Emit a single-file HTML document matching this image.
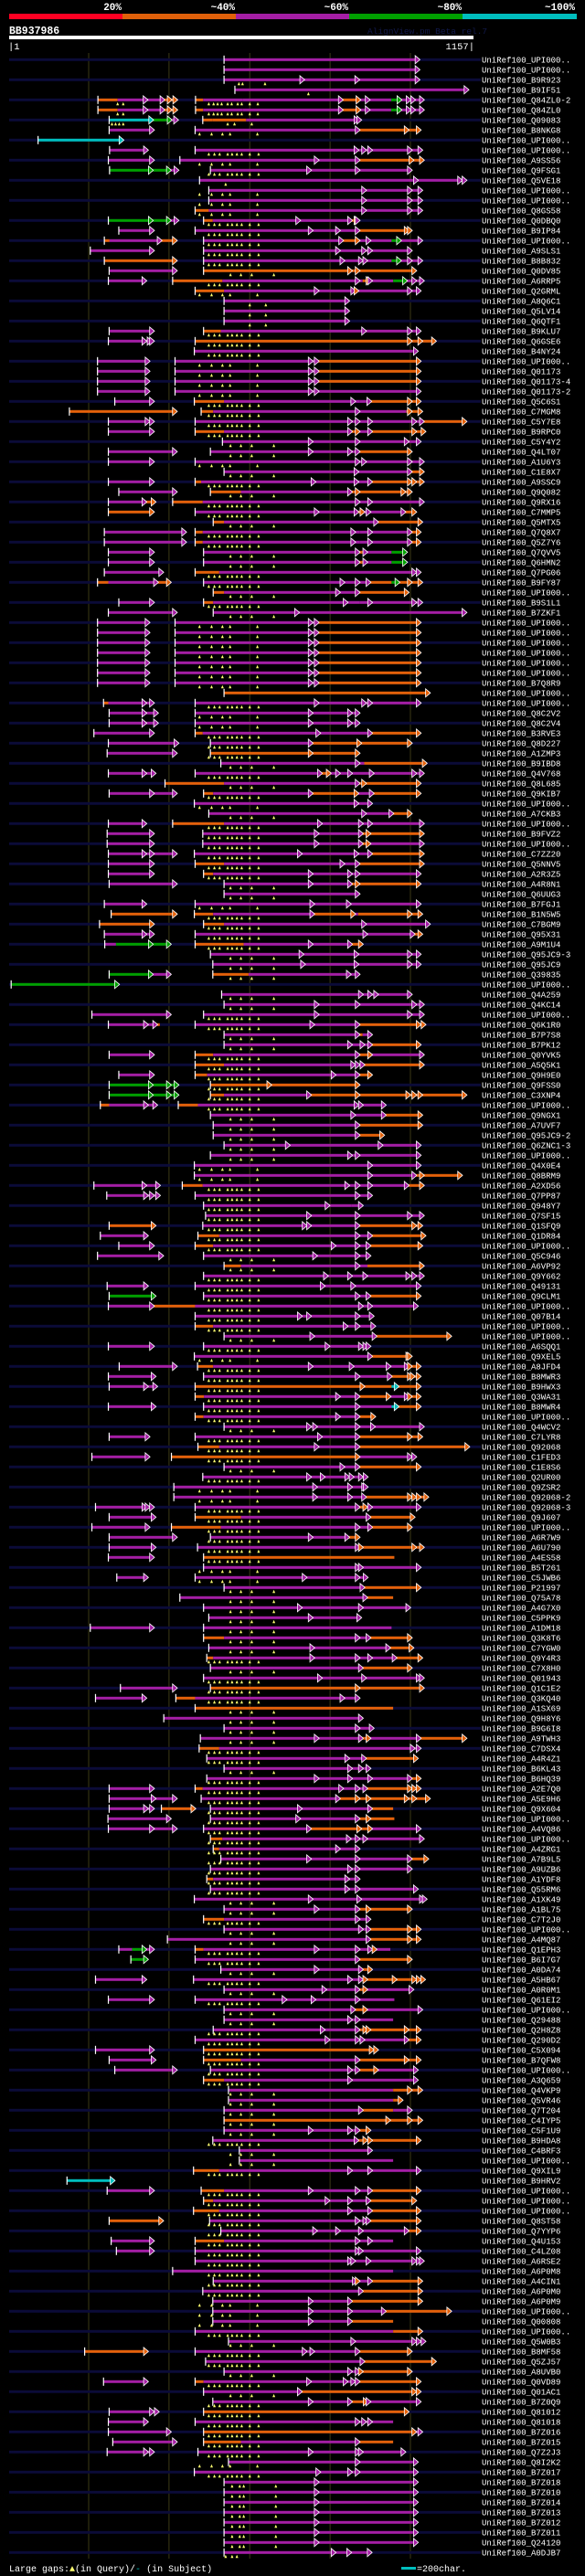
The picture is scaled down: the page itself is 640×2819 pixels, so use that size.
<!DOCTYPE html>
<html><head><meta charset="utf-8"><title>BB937986 AlignView</title>
<style>
html,body{margin:0;padding:0;background:#000;}
#wrap{width:640px;height:2819px;overflow:hidden;background:#000;}
svg text{font-family:"Liberation Mono","DejaVu Sans Mono",monospace;}
</style></head>
<body>
<div id="wrap">
<svg id="chart" width="640" height="2819" viewBox="0 0 640 2819" xmlns="http://www.w3.org/2000/svg">
  <rect x="0" y="0" width="640" height="2819" fill="#000"/>
  <g>
    <rect x="10" y="15" width="124" height="6" fill="#ff0022"/>
    <rect x="134" y="15" width="124" height="6" fill="#e0600a"/>
    <rect x="258" y="15" width="124" height="6" fill="#a41ea4"/>
    <rect x="382" y="15" width="124" height="6" fill="#00a000"/>
    <rect x="506" y="15" width="125" height="6" fill="#00bebe"/>
    <g fill="#fff" font-size="11" font-weight="bold" text-anchor="end">
      <text x="133" y="11">20%</text>
      <text x="257" y="11">~40%</text>
      <text x="381" y="11">~60%</text>
      <text x="505" y="11">~80%</text>
      <text x="629" y="11">~100%</text>
    </g>
  </g>
  <text x="10" y="37" fill="#fff" font-size="11.5" font-weight="bold">BB937986</text>
  <text x="402" y="37" fill="#121a4c" font-size="9.5">AlignView.pm Beta rel.7</text>
  <rect x="10" y="39" width="508" height="4" fill="#fff"/>
  <text x="9" y="54" fill="#fff" font-size="10.5">|1</text>
  <text x="519" y="54" fill="#fff" font-size="10.5" text-anchor="end">1157|</text>
  <g id="grid"></g>
  <g id="rows"></g>
  <g>
    <text x="10" y="2814" fill="#fff" font-size="10">Large gaps:<tspan fill="#ffff70">▲</tspan>(in Query)/<tspan fill="#00bebe">-</tspan> (in Subject)</text>
    <rect x="439" y="2809" width="16" height="3" fill="#00bebe"/>
    <text x="456" y="2814" fill="#fff" font-size="10">=200char.</text>
  </g>
</svg>
</div>
<script>
// ---- data ----
const queryLength = [1, 1157];
const gridPositions = [199, 399, 600, 800, 1000];
const ticksA = [498, 512, 525, 545, 556, 568, 580, 600, 622];
const ticksB = [475, 505, 532, 551, 619];
const ticksC = [552, 578, 605, 660];
const ticksD = [556, 575, 585, 665];
const hitNames = ["UPI000..","UPI000..","B9R923","B9IF51","Q84ZL0-2","Q84ZL0","Q09083","B8NKG8","UPI000..","UPI000..",
"A9SS56","Q9FSG1","Q5VE18","UPI000..","UPI000..","Q8GS58","Q0DBQ0","B9IP84","UPI000..","A9SLS1",
"B8B832","Q0DV85","A6RRP5","Q2GRML","A8Q6C1","Q5LV14","Q6QTF1","B9KLU7","Q6GSE6","B4NY24",
"UPI000..","Q01173","Q01173-4","Q01173-2","Q5C6S1","C7MGM8","C5Y7E8","B9RPC0","C5Y4Y2","Q4LT07",
"A1U6Y3","C1E8X7","A9SSC9","Q9Q082","Q9RX16","C7MMP5","Q5MTX5","Q7Q8X7","Q5Z7Y6","Q7QVV5",
"Q6HMN2","Q7PG06","B9FY87","UPI000..","B9S1L1","B7ZKF1","UPI000..","UPI000..","UPI000..","UPI000..",
"UPI000..","UPI000..","B7Q8R9","UPI000..","UPI000..","Q8C2V2","Q8C2V4","B3RVE3","Q8D227","A1ZMP3",
"B9IBD8","Q4V768","Q8L685","Q9KIB7","UPI000..","A7CKB3","UPI000..","B9FVZ2","UPI000..","C7ZZ20",
"Q5NNV5","A2R3Z5","A4R8N1","Q6UUG3","B7FGJ1","B1N5W5","C7BGM9","Q95X31","A9M1U4","Q95JC9-3",
"Q95JC9","Q39835","UPI000..","Q4A259","Q4KC14","UPI000..","Q6K1R0","B7P7S8","B7PK12","Q0YVK5",
"A5Q5K1","Q9H9E0","Q9FSS0","C3XNP4","UPI000..","Q9NGX1","A7UVF7","Q95JC9-2","Q6ZNC1-3","UPI000..",
"Q4X0E4","Q8BRM9","A2XD56","Q7PP87","Q948Y7","Q7SF15","Q1SFQ9","Q1DR84","UPI000..","Q5C946",
"A6VP92","Q9Y662","Q49131","Q9CLM1","UPI000..","Q07B14","UPI000..","UPI000..","A6SQQ1","Q9XEL5",
"A8JFD4","B8MWR3","B9HWX3","Q3WA31","B8MWR4","UPI000..","Q4WCV2","C7LYR8","Q92068","C1FED3",
"C1E8S6","Q2UR00","Q9ZSR2","Q92068-2","Q92068-3","Q9J607","UPI000..","A6R7W9","A6U790","A4ES58",
"B5T261","C5JWB6","P21997","Q75A78","A4G7X0","C5PPK9","A1DM18","Q3K8T6","C7YGW0","Q9Y4R3",
"C7X8H0","Q01943","Q1C1E2","Q3KQ40","A1SX69","Q9H8Y6","B9G6I8","A9TWH3","C7DSX4","A4R4Z1",
"B6KL43","B6HQ39","A2E7Q0","A5E9H6","Q9X604","UPI000..","A4VQ86","UPI000..","A4ZRG1","A7B9L5",
"A9UZB6","A1YDF8","Q55RM6","A1XK49","A1BL75","C7T2J0","UPI000..","A4MQ87","Q1EPH3","B6I7G7",
"A0DA74","A5HB67","A0R0M1","Q61EI2","UPI000..","Q29488","Q2H8Z8","Q290D2","C5X094","B7QFW8",
"UPI000..","A3Q659","Q4VKP9","Q5VR46","Q7T204","C4IYP5","C5F1U9","B9HDA8","C4BRF3","UPI000..",
"Q9XIL9","B9HRV2","UPI000..","UPI000..","UPI000..","Q8ST58","Q7YYP6","Q4U153","C4LZ08","A6RSE2",
"A6P0M8","A4CIN1","A6P0M0","A6P0M9","UPI000..","Q00808","UPI000..","Q5W0B3","B8MF58","Q5ZJ57",
"A8UVB0","Q0VD89","Q01AC1","B7Z0Q9","Q81012","Q81018","B7Z016","B7Z015","Q7Z2J3","Q8I2K2",
"B7Z017","B7Z018","B7Z010","B7Z014","B7Z013","B7Z012","B7Z011","Q24120","A0DJB7"];
const hitSegments = [
"|m536-1022>","|m536-1022>","|m536-735> m-872> m-1022> ^573,582,638","|m563-1144> ^746",
"|o222-271 m-345> m-387> o-405> o-419> |o465-484 m-582 m-831> o-875> m-898> m-952 g-977> m-1000> m-1011> m-1033> ^271,285,498,510,520,530,545,555,570,580,600,620",
"|o222-271 m-345> m-387> o-405> o-419> |o465-484 m-582 m-831> o-875> m-898> m-952 g-977> m-1000> m-1011> m-1033> ^271,285,498,510,520,530,545,555,570,580,600,620",
"|c250-359> g-405> m-421> |o483-508 o-591 m-870> m-877> ^257,266,275,285,545,562,605",
"|m250-361> |m464-873> o-995> o-1025> ^B","|c73-285>",
"|m251-346> |m464-870> m-889> m-904> m-1003> m-1029> ^A",
"|m248-361> |m426-771> m-873> o-1007> o-1033> ^B",
"|g251-358> g-403> m-422> |m502-752> m-873> m-1003> ^A",
"|m475-1018> m-1128> m-1139> ^540",
"|m498-889> m-1003> m-1029> ^B","|m498-889> m-1003> m-1029> ^B","|o464-498 m-889> m-1003> m-1029> ^B",
"|g248-358> g-403> m-422> |o485-508 m-725> m-854> o-870> m-873> ^A",
"|m274-361> |m464-756> m-824> m-873> o-995> o-1003> ^A",
"|o238-251 m-380> o-418> |m485-832> o-873> m-900> m-953 g-976> m-1029> ^A",
"|m203-361> |m485-824> m-889> m-904> m-1003> ^A",
"|o238-418> |m485-835> m-881> m-892> m-953 g-976> m-1003> m-1029> ^A",
"|m250-418> |o485-854> o-873> o-1014> ^C",
"|m248-342> |o408-532 m-873> m-881 o-900> m-904> m-957 g-991> m-1014> m-1033> ^A",
"|o464-536 m-771> m-862> o-870> m-1003> m-1025> ^B",
"|m536-847> ^600,640","|m536-847> ^600,640","|m536-847> ^600,640",
"|m250-361> |o485-528 m-889> m-1003> m-1025> ^A",
"|m248-342> m-355> m-361> |o464-1003> o-1029> o-1063> ^A",
"|m462-1018> ^A",
"|m221-350> |m414-756> m-771> o-1025> ^B","|m221-350> |m414-756> m-771> o-1025> ^B","|m221-350> |m414-756> m-771> o-1025> ^B","|m221-350> |m414-756> m-771> m-1025> ^B",
"|m264-361> |o462-536 m-862> m-873 m-902> o-1003> o-1025> ^A",
"|o151-418> |o479-509 m-873> m-990 o-1003> o-1029> ^A",
"|m248-350> m-361> |m464-854> m-873> m-904> m-1014> m-1033> o-1139> ^A",
"|m248-361> |o464-536 m-854> o-873> m-904> o-1014> o-1037> ^A",
"|m532-756> m-873> m-995> m-1025> ^C",
"|m248-418> |m502-756> m-854> m-873> o-1003> ^C",
"|m248-361> |m464-873> m-889> m-1003> m-1033> ^B",
"|m536-870> m-1003> o-1033> ^C",
"|m248-361> |o464-479 m-763> m-870> m-904> o-1003> o-1014> o-1033> ^A",
"|m274-418> |o502-578 m-854> o-873> o-987> o-1003> ^C",
"|m248-342> o-365> |o408-483 m-873> m-904> m-1033> ^A",
"|o248-361> |m464-771> m-870> o-885> m-900> m-987> o-1014> ^A",
"|o509-536 m-919> o-1029> ^C",
"|m238-441> |o464-483 m-862> m-873 m-904> m-1003> o-1025> ^A",
"|m238-441> |o464-483 m-862> m-873 m-904> m-1003> o-1025> ^A",
"|m248-361> |m485-873> o-881 m-892> m-953 g-991> ^C",
"|m248-361> |m485-873> o-881 m-892> m-953 g-991> ^C",
"|m238-384> |o464-524 m-1014> m-1025> ^A",
"|o221-248 m-371> o-403> |m485-835> m-873> m-900> o-953 g-972> o-1003> o-1029> ^A",
"|o509-536 m-824> m-873> o-995> ^C",
"|m274-361> |o485-509 m-843> m-873 m-904> m-1014> m-1029> ^A",
"|m248-418> |m509-722> m-1139> ^C",
"|m221-350> |m414-756> m-771> o-1025> ^B","|m221-350> |m414-756> m-771> o-1025> ^B","|m221-350> |m414-756> m-771> o-1025> ^B",
"|m221-350> |m414-756> m-771> o-1025> ^B","|m221-350> |m414-756> m-771> o-1025> ^B","|m221-350> |m414-756> m-771> o-1025> ^B",
"|m221-350> |m414-756> m-771> o-1025> ^B",
"|o536-1048>",
"|o236-248 m-342> m-361> |m464-771> m-889> m-904> m-1025> ^A",
"|m250-342> m-371> |m464-756> m-854> m-873> ^B","|m250-342> m-371> |m464-756> m-854> m-873> ^B",
"|m212-361> |o464-483 m-775> m-904> o-1025> ^A",
"|m248-422> |m502-756> o-877> o-1003> ^A",
"|m245-418> |o502-756> o-873> ^A",
"|m528-873> m-885 o-1040> ^C",
"|m248-342> m-365> |m464-779> o-801> m-824> m-854> m-908> m-1014> m-1033> ^A",
"|o389-536 m-873> o-889> o-1025> ^C",
"|m250-361> m-418> |o485-509 m-756> o-870> m-908> o-1025> ^A",
"|m462-870> m-904> ^B",
"|m498-889> m-957> o-1003> ^C",
"|m248-342> |o408-536 m-779> m-881> m-904> m-1033> ^A",
"|m245-361> |m483-771> m-881> o-900> o-1033> ^A",
"|m245-361> |m483-771> m-881> o-900> m-1033> ^A",
"|m248-342> m-361> m-418> |m462-729> m-870> m-904> o-1033> ^A",
"|m248-361> |o464-536 m-835> m-873> o-1033> ^A",
"|m248-361> |o485-509 m-756> m-854> m-873> m-1025> ^A",
"|m250-418> |m536-756> m-854> o-873> o-1025> ^C",
"|m536-873> ^C",
"|m238-342> |m464-760> m-851> m-1025> ^B",
"|o255-418> |o462-509 m-760> o-862> m-870 o-1003> o-1029> ^A",
"|o226-361> |o485-536 m-889> m-1048> ^A",
"|m238-342> m-361> |m464-892> m-1010> o-1029> ^A",
"|m239-267 g-358> g-403> |o464-585 m-756> m-854> o-881> ^A",
"|m502-733> m-870> m-1003> m-1025> ^C",
"|m508-737> m-870> m-1003> m-1025> ^C",
"|g250-358> m-403> |o508-597 m-851> m-873> ^C",
"|g6-274>",
"|m530-881> m-904> m-919> m-1003> ^C",
"|m536-771> m-873> m-1014> m-1033> ^C",
"|m207-403> |m485-771> m-1003> m-1033> ^A",
"|m248-346> m-369> o-376 |m464-760> m-873> o-1025> o-1037> ^A",
"|m536-873> o-881 m-904> ^C",
"|m536-854> m-885> m-904> o-1025> ^C",
"|m250-361> |o464-509 m-873> o-904> m-1033> ^A",
"|o464-536 m-862> m-873> m-885> o-1033> ^A",
"|m274-361> |o464-494 m-813> m-873> o-904> ^A",
"|g250-358> g-403> g-422> |o502-653> o-873> ^A",
"|g250-358> g-403> g-422> |o502-536 m-752> o-873> o-999> o-1014> o-1029> o-1139> ^A",
"|o228-250 m-346> m-369> |o422-471 m-870> m-881> m-938> ^A",
"|m502-862> m-938> o-1029> ^C",
"|m509-873> o-1029> ^C",
"|m509-873> o-934> ^C",
"|m536-699> m-930> m-1025> ^C",
"|m502-854> m-873> m-1025> ^C",
"|m462-904> m-1025> ^B",
"|m462-904> m-1014> o-1033> o-1128> ^B",
"|m212-342> m-360 m-376> |o432-483 m-847> m-873> m-904> m-995> o-1033> ^A",
"|m244-346> m-361> m-376> |m464-873> m-904> ^A",
"|m485-798> m-854 m-881> ^A",
"|m490-752> m-873> m-1003> m-1033> ^A",
"|o250-365> |m483-741> m-752> m-873> o-1014> o-1029> ^A",
"|m228-346> |o471-524 m-873> m-904> o-1037> ^A",
"|m274-361> |o464-509 m-813> m-873> m-900> o-1029> ^A",
"|m221-384> |m485-767> m-873> m-900> ^C",
"|o536-578 m-873> m-893 o-1033> ^C",
"|m485-794> m-854> m-892> m-999> m-1014> m-1033> ^A",
"|m245-346> |m464-786> m-862> m-1025> ^A",
"|g250-365> |m485-873> m-900> o-1025> ^A",
"|m248-361> o-464 m-881> m-904> m-1018> ^A",
"|m464-729> m-752> m-873> m-908> ^A",
"|o464-509 m-843> m-873> m-912> ^A",
"|m536-760> m-915> o-1101> ^C",
"|m248-361> |m485-798> m-881> m-892> m-900> ^A",
"|m462-904> o-999> o-1003> ^B",
"|m275-418> |o470-509 m-756> m-858> m-950> m-995> o-1003> o-1025> ^A",
"|m248-365> |m485-873> m-953> o-1003> o-1010> o-1025> ^A",
"|m250-346> m-369> |o464-885> o-953 c-970> o-1025> ^A",
"|o464-486 m-824> m-873> o-950> m-995> o-1003> o-1025> ^A",
"|m248-365> |m485-873> m-953 c-970> o-1025> ^A",
"|o464-485 m-824> m-873> o-912> ^A",
"|m536-752> m-767> m-873> m-911> m-1033> ^C",
"|m250-350> |m464-779> m-873> o-1003> o-1029> ^A",
"|o471-524 m-771> m-873> o-1146> ^A",
"|m207-350> |o405-873> m-1003> m-1014> ^A",
"|m536-835> m-873> o-1025> ^C",
"|m483-752> m-786> m-847> m-858> m-881> m-893> ^A",
"|m411-767> m-854> m-889> m-893> ^B",
"|m411-767> m-854> m-889> o-1003> o-1014> o-1025> o-1044> ^B",
"|m216-342> m-350> m-361> |m464-873> o-892> m-904> m-1025> ^A",
"|m250-365> |o464-578 m-900> o-1010> ^A",
"|m207-350> |o405-528 m-873> m-904> o-1003> ^A",
"|m250-418> |m502-756> m-847> o-873> ^A",
"|m250-365> |m470-873> o-881> o-1014> o-1033> ^A",
"|m248-361> |o485-960 ^A",
"|m485-873> m-881> m-1025> ^B",
"|m269-346> |m464-741> m-873> m-893> ^B",
"|m536-885> o-1025> ^C",
"|m426-555 m-892> o-957 ^C",
"|m485-729> m-881> m-999> ^C",
"|m498-756> m-877> ^C",
"|m203-361> |m485-953 ^C",
"|o485-536 m-873> m-900> o-1003> ^C",
"|m498-760> m-949> o-1007> ^C",
"|o493-509 m-760> m-873> m-904> m-965> o-1029> ^A",
"|m502-881> o-1003> ^C",
"|m485-779> m-889> m-1025> m-1033> ^A",
"|m278-418> |o502-873> o-1033> ^A",
"|m216-342> |o416-464 m-835> m-873> ^A",
"|o464-957 ^C",
"|m386-881> ^C",
"|m536-873> m-908> ^C",
"|m477-771> m-881> o-900> m-1025> o-1139> ^C",
"|o474-524 m-1010> m-1025> ^A",
"|m493-847> m-889> o-1018> ^A",
"|m536-854> m-881> m-900> ^C",
"|m493-771> m-854> m-904> m-1003> o-1025> ^A",
"|m250-361> |o464-483 m-832> m-873> m-892> o-1003> o-1014> o-1025> ^A",
"|m250-365> m-418> |m479-824> o-873> o-900> o-995> o-1014> o-1048> ^A",
"|m250-346> m-361> |o380-464> |m502-729> m-904> o-957 ^A",
"|m247-403> |m502-725> m-873> o-900> o-960 ^A",
"|m248-361> m-418> |m485-752> o-877> o-904> m-1025> ^A",
"|o502-532 m-851> m-873> m-892> m-1033> ^A",
"|o509-524 m-824> m-873> ^A",
"|m528-752> m-873> m-1003> o-1044> ^A",
"|m502-854> m-873> m-1003> ^A",
"|o493-509 m-847> m-873> ^A",
"|m502-847> m-873> m-1018> ^A",
"|m462-756> m-877> m-1033> m-1040> ^C",
"|m536-771> m-873> o-900> o-1003> ^C",
"|o485-536 m-873> m-900> ^A",
"|m536-881> m-900> o-1003> o-1025> ^C",
"|m395-900> o-1003> o-1025> ^C",
"|m274-307 g-342> m-361> |o464-485 m-771> m-873> m-904> o-915> m-950 ^A",
"|g304-346> |m464-873> o-1003> ^A",
"|m528-771> m-881> o-904> ^C",
"|m216-342> |m460-854> m-881> o-892> o-965> o-1014> o-1025> o-1036> ^A",
"|m536-790> m-873> o-892> m-1007> ^C",
"|m248-361> |m464-691> m-763> m-873> m-960 ^A",
"|m536-862> o-892> m-1029> ^C",
"|m536-854> m-873> m-957 ^C",
"|m509-786> m-873> o-892> o-900> o-995> o-1025> ^A",
"|m464-798> m-873> m-885> m-995> o-1025> ^A",
"|m216-361> |o485-908> o-919> ^A",
"|m250-365> |o485-578 m-873> o-995> o-1025> ^A",
"|m264-418> |m502-854> m-873> o-919> m-1018> ^A",
"|o485-536 m-854> m-1018> ^A",
"|m547-957 o-1003> o-1029> ^C",
"|m547-957 o-980> ^C",
"|m536-881> o-957 m-1003> ^C",
"|o536-949> o-1003> o-1029> ^C",
"|m536-756> m-854> m-873> o-900> ^C",
"|m508-870> o-892> o-904> o-1025> ^A",
"|m574-904> ^C",
"|m574-957 ^C",
"|o460-524 m-854> m-904> m-1025> ^A",
"|c145-263>",
"|m245-361> |o479-536 m-756> m-873> m-904> o-1025> ^A",
"|o485-509 m-798> m-854> m-900> o-1014> ^A",
"|o460-524 m-854> m-904> o-1025> ^A",
"|o250-384> |m500-873> m-892> m-900> o-1025> ^A",
"|m528-767> m-824> m-881> m-995> o-1025> ^A",
"|m255-361> |o464-536 m-873> m-904> m-957 ^A",
"|m268-361> |m464-873> m-881> m-1025> ^A",
"|m464-854> m-862> m-900> m-1014> m-1025> m-1033> ^A",
"|m408-957 ^A",
"|m509-866> o-873> m-904> o-1029> ^A",
"|m483-881> o-1029> ^A",
"|m508-756> m-854> o-1029> ^B",
"|m508-756> m-854> m-938> o-1101> ^B",
"|m508-756> m-854> o-957 ^B",
"|m464-957 o-1029> ^A",
"|m547-862> m-1014> m-1025> m-1037> ^C",
"|o189-346> |m464-741> m-760> m-873> o-1003> ^A",
"|m490-885> o-1063> ^A",
"|m536-854> m-873> o-881> o-1003> ^C",
"|m236-346> |o464-485 m-752> m-843> m-862> m-873> o-1025> ^A",
"|m485-729> o-1014> o-1025> ^C",
"|m508-756> m-854> o-893> m-900> m-1025> ^A",
"|m250-361> m-373> |o485-995> ^A",
"|m248-346> |m464-873> m-889> m-904> m-957 ^A",
"|m248-403> |o485-1014> m-1029> ^A",
"|m259-418> |o485-578 m-873> o-957 ^A",
"|m245-346> m-361> |m471-756> m-873> m-881> m-987> ^A",
"|m547-873> m-1018> ^B",
"|m462-775> m-854> m-873> m-1018> ^A",
"|m536-771> m-1018> ^D","|m536-771> m-1018> ^D","|m536-771> m-1018> ^D","|m536-771> m-1018> ^D",
"|m536-771> m-1018> ^D","|m536-771> m-1018> ^D","|m536-771> m-1018> ^D",
"|m536-813> m-852> m-903> ^540,556,568"
];
const tickSets = {A: ticksA, B: ticksB, C: ticksC, D: ticksD};
const colors = {m: "#a41ea4", o: "#e4610a", g: "#00a000", c: "#00bebe"};

// ---- axis functions ----
const NS = "http://www.w3.org/2000/svg";
function xs(p) { return 10 + (p - queryLength[0]) * 508 / (queryLength[1] - queryLength[0]); }
function yr(i) { return 65.3 + 11 * i; }

const grid = document.getElementById("grid");
gridPositions.forEach(function (p) {
  const l = document.createElementNS(NS, "line");
  l.setAttribute("x1", xs(p)); l.setAttribute("x2", xs(p));
  l.setAttribute("y1", 58); l.setAttribute("y2", 2800);
  l.setAttribute("stroke", "#3c3a16"); l.setAttribute("stroke-width", "1");
  
  
  grid.appendChild(l);
});

const rowsG = document.getElementById("rows");
hitSegments.forEach(function (spec, i) {
  const y = yr(i);
  const g = document.createElementNS(NS, "g");
  
  
  rowsG.appendChild(g);
  if (i % 2 === 0) {
    const bg = document.createElementNS(NS, "rect");
    bg.setAttribute("x", 10); bg.setAttribute("y", y - 1.5);
    bg.setAttribute("width", 516); bg.setAttribute("height", 3);
    bg.setAttribute("fill", "#0b0b38");
    
    
    g.appendChild(bg);
  }
  const arrows = [], bars = [], ticks = [];
  let prev = 0;
  spec.split(" ").forEach(function (tok) {
    if (!tok) return;
    if (tok[0] === "^") {
      const body = tok.slice(1);
      if (tickSets[body]) tickSets[body].forEach(function (t) { ticks.push(t); });
      else body.split(",").forEach(function (t) { ticks.push(+t); });
      return;
    }
    let bar = false;
    if (tok[0] === "|") { bar = true; tok = tok.slice(1); }
    const col = colors[tok[0]];
    tok = tok.slice(1);
    const arrow = tok[tok.length - 1] === ">";
    if (arrow) tok = tok.slice(0, -1);
    const parts = tok.split("-");
    const s = parts[0] === "" ? prev : +parts[0];
    const e = +parts[1];
    prev = e;
    const r = document.createElementNS(NS, "rect");
    r.setAttribute("x", xs(s)); r.setAttribute("y", y - 1.5);
    r.setAttribute("width", Math.max(0.5, xs(e) - xs(s))); r.setAttribute("height", 3);
    r.setAttribute("fill", col);
    
    
    g.appendChild(r);
    if (arrow) arrows.push([e, col]);
    if (bar) bars.push(s);
  });
  ticks.forEach(function (t) {
    const k = document.createElementNS(NS, "path");
    const tx = xs(t);
    k.setAttribute("d", "M" + (tx - 1.5) + " " + (y + 6) + "L" + tx + " " + (y + 2.5) + "L" + (tx + 1.5) + " " + (y + 6) + "Z");
    k.setAttribute("fill", "#ffff70");
    
    
    g.appendChild(k);
  });
  bars.forEach(function (b) {
    const w = document.createElementNS(NS, "rect");
    w.setAttribute("x", xs(b) - 0.6); w.setAttribute("y", y - 4.5);
    w.setAttribute("width", 1.2); w.setAttribute("height", 9);
    w.setAttribute("fill", "#fff");
    
    
    g.appendChild(w);
  });
  arrows.forEach(function (a) {
    const ax = xs(a[0]);
    const p = document.createElementNS(NS, "polygon");
    p.setAttribute("points", (ax - 4.5) + "," + (y - 4.5) + " " + (ax + 0.8) + "," + y + " " + (ax - 4.5) + "," + (y + 4.5));
    p.setAttribute("fill", a[1]);
    p.setAttribute("stroke", "#fff");
    p.setAttribute("stroke-width", "0.8");
    
    
    g.appendChild(p);
  });
  const t = document.createElementNS(NS, "text");
  t.setAttribute("x", 527); t.setAttribute("y", y + 3.3);
  t.setAttribute("fill", "#fff"); t.setAttribute("font-size", "9");
  t.textContent = "UniRef100_" + (hitNames[i] || "UPI000..");
  
  
  g.appendChild(t);
});
</script>
</body></html>
